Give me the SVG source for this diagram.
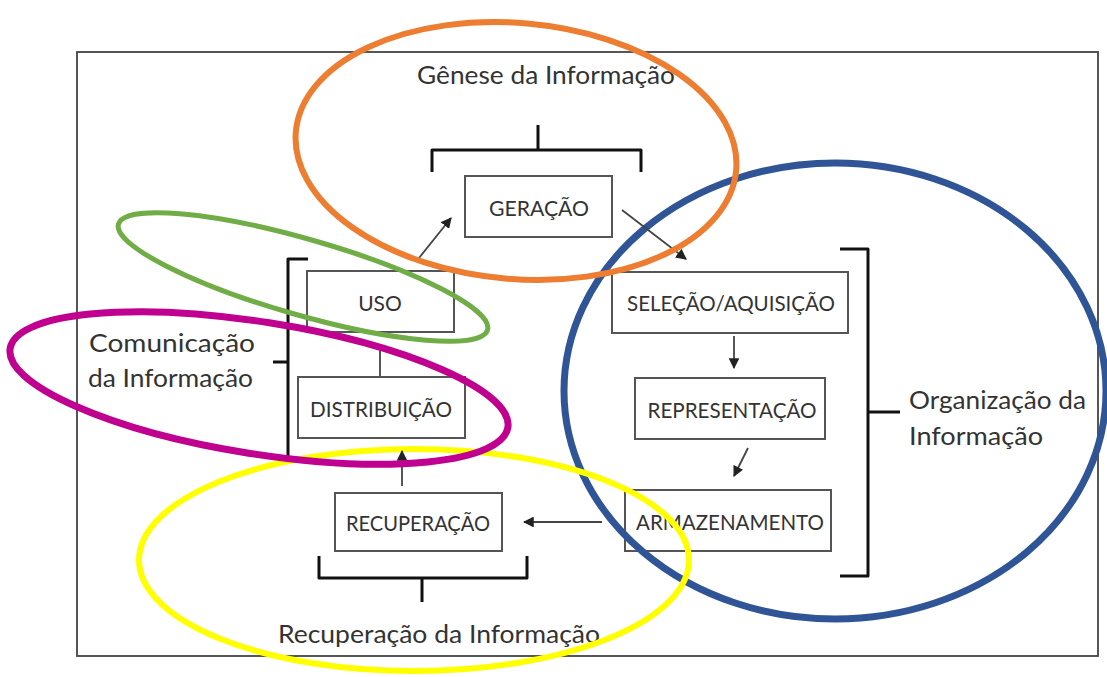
<svg xmlns="http://www.w3.org/2000/svg" width="1107" height="677" viewBox="0 0 1107 677">
<style>
.box{fill:#fff;stroke:#555;stroke-width:2}
.bt{font-family:Lato,"Liberation Sans",sans-serif;font-size:21px;fill:#333;text-anchor:middle;dominant-baseline:central}
.lbl{font-family:Lato,"Liberation Sans",sans-serif;font-size:25px;fill:#333}
.br{fill:none;stroke:#111;stroke-width:3;stroke-linejoin:round}
.ar{stroke:#444;stroke-width:1.8;fill:none;marker-end:url(#ah)}
.ln{stroke:#444;stroke-width:1.8;fill:none}
.el{fill:none}
</style>
<defs>
<marker id="ah" viewBox="0 0 10 10" refX="9" refY="5" markerWidth="6" markerHeight="6" markerUnits="strokeWidth" orient="auto">
<path d="M0,0L10,5L0,10z" fill="#222"/>
</marker>
</defs>
<rect x="0" y="0" width="1107" height="677" fill="#fff"/>
<rect x="77" y="52" width="1021" height="604" fill="none" stroke="#444" stroke-width="1.8"/>

<g id="braces">
<path class="br" d="M432,172 L432,150 L538,150 L538,125 M538,150 L641,150 L641,172"/>
<path class="br" d="M308,259 L288,259 L288,362 L273,362 M288,362 L288,460 L306,460"/>
<path class="br" d="M840,249 L868,249 L868,412 L900,412 M868,412 L868,576 L840,576"/>
<path class="br" d="M319,556 L319,578 L422,578 L422,602 M422,578 L527,578 L527,556"/>
</g>

<g id="n-geracao"><rect class="box" x="465" y="176" width="147" height="61"/><text class="bt" x="539" y="207" textLength="100" lengthAdjust="spacingAndGlyphs">GERAÇÃO</text></g>
<g id="n-uso"><rect class="box" x="307" y="271" width="147" height="61"/><text class="bt" x="380" y="302">USO</text></g>
<g id="n-distribuicao"><rect class="box" x="298" y="377" width="167" height="61"/><text class="bt" x="381" y="408" textLength="142" lengthAdjust="spacingAndGlyphs">DISTRIBUIÇÃO</text></g>
<g id="n-recuperacao"><rect class="box" x="335" y="493" width="167" height="58"/><text class="bt" x="418" y="522" textLength="144" lengthAdjust="spacingAndGlyphs">RECUPERAÇÃO</text></g>
<g id="n-selecao"><rect class="box" x="612" y="272" width="236" height="61"/><text class="bt" x="731" y="302" textLength="208" lengthAdjust="spacingAndGlyphs">SELEÇÃO/AQUISIÇÃO</text></g>
<g id="n-representacao"><rect class="box" x="635" y="378" width="190" height="61"/><text class="bt" x="732" y="409" textLength="169" lengthAdjust="spacingAndGlyphs">REPRESENTAÇÃO</text></g>
<g id="n-armazenamento"><rect class="box" x="625" y="490" width="206" height="61"/><text class="bt" x="730" y="521" textLength="188" lengthAdjust="spacingAndGlyphs">ARMAZENAMENTO</text></g>

<g id="labels">
<text class="lbl" x="417" y="84" textLength="258" lengthAdjust="spacingAndGlyphs">Gênese da Informação</text>
<text class="lbl" x="89" y="352" textLength="166" lengthAdjust="spacingAndGlyphs">Comunicação</text>
<text class="lbl" x="88" y="387" textLength="165" lengthAdjust="spacingAndGlyphs">da Informação</text>
<text class="lbl" x="909" y="409" textLength="177" lengthAdjust="spacingAndGlyphs">Organização da</text>
<text class="lbl" x="909" y="445" textLength="134" lengthAdjust="spacingAndGlyphs">Informação</text>
<text class="lbl" x="278" y="643" textLength="322" lengthAdjust="spacingAndGlyphs">Recuperação da Informação</text>
</g>

<g id="ellipses-back">
<ellipse class="el" cx="835" cy="391" rx="271" ry="228" stroke="#2F5597" stroke-width="7"/>
<ellipse class="el" cx="414" cy="560" rx="275" ry="111" stroke="#FFFF00" stroke-width="6"/>
</g>

<g id="connectors">
<path class="ar" d="M419,258 L451,218"/>
<path class="ar" d="M622,210 L686,259"/>
<path class="ar" d="M734,336 L734,368"/>
<path class="ar" d="M748,448 L734,476"/>
<path class="ar" d="M602,522 L524,522"/>
<path class="ar" d="M402,486 L402,451"/>
<path class="ln" d="M380,376 L380,346"/>
</g>

<g id="ellipses-front">
<ellipse class="el" cx="516" cy="151" rx="221" ry="128" transform="rotate(5 516 151)" stroke="#ED7D31" stroke-width="6"/>
<ellipse class="el" cx="303" cy="277" rx="192" ry="38" transform="rotate(16 303 277)" stroke="#70AD47" stroke-width="5"/>
<ellipse class="el" cx="259" cy="388" rx="252" ry="66" transform="rotate(9 259 388)" stroke="#C0008F" stroke-width="7"/>
</g>
</svg>
